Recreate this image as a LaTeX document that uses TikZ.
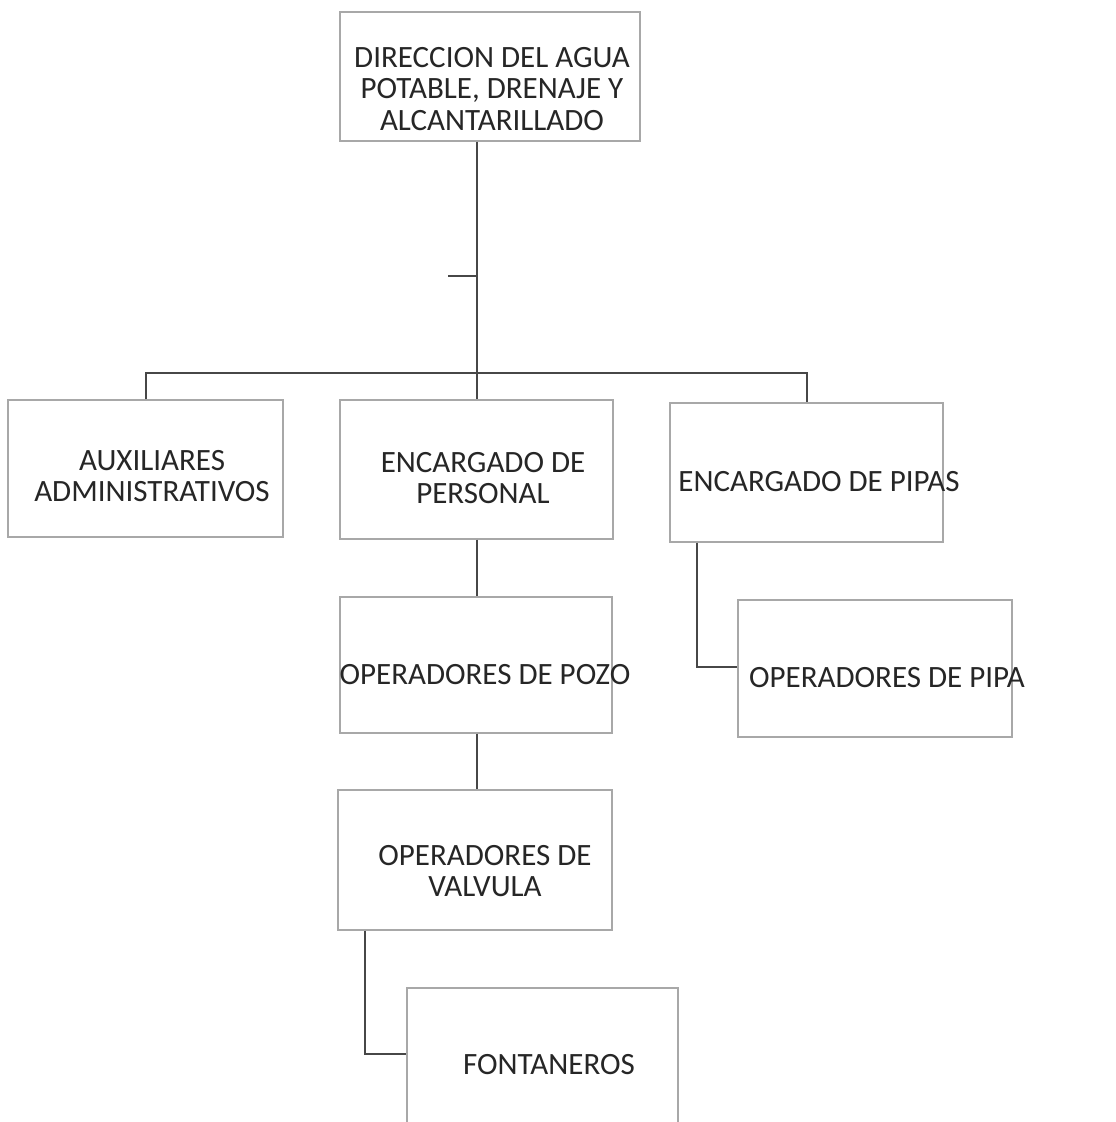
\documentclass[tikz,border=0pt]{standalone}
\usepackage{fontspec}
\setmainfont{Carlito}
\definecolor{inkline}{HTML}{474747}
\definecolor{boxline}{HTML}{A8A8A8}
\definecolor{inktext}{HTML}{262626}
\begin{document}
\begin{tikzpicture}[x=1pt,y=-1pt,
  orgbox/.style={draw=boxline, line width=1.2pt, rectangle, inner sep=0pt},
  orgtext/.style={inner sep=0pt, align=center, text=inktext, font=\fontsize{31}{31.5}\selectfont},
  link/.style={draw=inkline, line width=2.5pt}]
\clip (0,0) rectangle (1116,1122);
\fill[white] (0,0) rectangle (1116,1122);

% boxes
\node[orgbox, minimum width=300pt, minimum height=129pt] (b0) at (490,76.5) {};
\node[orgbox, minimum width=275pt, minimum height=137pt] (b1) at (145.5,468.5) {};
\node[orgbox, minimum width=273pt, minimum height=139pt] (b2) at (476.5,469.5) {};
\node[orgbox, minimum width=273pt, minimum height=139pt] (b3) at (806.5,472.5) {};
\node[orgbox, minimum width=272pt, minimum height=136pt] (b4) at (476,665) {};
\node[orgbox, minimum width=274pt, minimum height=137pt] (b5) at (875,668.5) {};
\node[orgbox, minimum width=274pt, minimum height=140pt] (b6) at (475,860) {};
\node[orgbox, minimum width=271pt, minimum height=160pt] (b7) at (542.5,1068) {};

% texts
\node[orgtext] (t0) at (492,89) {DIRECCION DEL AGUA\\POTABLE, DRENAJE Y\\ALCANTARILLADO};
\node[orgtext] (t1) at (152,476) {AUXILIARES\\ADMINISTRATIVOS};
\node[orgtext] (t2) at (483,478) {ENCARGADO DE\\PERSONAL};
\node[orgtext] (t3) at (819,482) {ENCARGADO DE PIPAS};
\node[orgtext] (t4) at (485,675) {OPERADORES DE POZO};
\node[orgtext] (t5) at (887,678) {OPERADORES DE PIPA};
\node[orgtext] (t6) at (485,871) {OPERADORES DE\\VALVULA};
\node[orgtext] (t7) at (549,1065) {FONTANEROS};

% connector coordinates
\coordinate (busL) at (146,373);
\coordinate (busM) at (477,373);
\coordinate (busR) at (807,373);
\coordinate (tick) at (448,276);
\coordinate (k1) at (697,667);
\coordinate (k2) at (365,1054);

% connectors
\draw[link] (b0.south -| busM) -- (busM);
\draw[link] (tick) -- (tick -| busM);
\draw[link] (busL |- b1.north) -- (busL) -- (busR) -- (busR |- b3.north);
\draw[link] (busM) -- (busM |- b2.north);
\draw[link] (b2.south -| busM) -- (b4.north -| busM);
\draw[link] (b4.south -| busM) -- (b6.north -| busM);
\draw[link] (b3.south -| k1) -- (k1) -- (k1 -| b5.west);
\draw[link] (b6.south -| k2) -- (k2) -- (k2 -| b7.west);
\end{tikzpicture}
\end{document}
